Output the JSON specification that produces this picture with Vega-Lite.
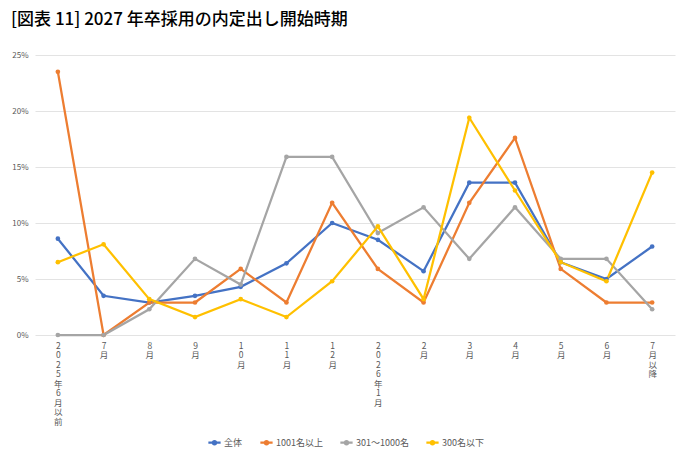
{
  "$schema": "https://vega.github.io/schema/vega-lite/v6.json",
  "width": 640,
  "height": 280,
  "autosize": {"type": "none"},
  "padding": {"left": 35, "top": 55, "right": 15, "bottom": 125},
  "background": "white",
  "title": {
    "text": "[図表 11] 2027 年卒採用の内定出し開始時期",
    "anchor": "start",
    "frame": "group",
    "dx": -24,
    "offset": 22,
    "font": "Noto Sans CJK JP",
    "fontSize": 17,
    "fontWeight": 500,
    "color": "#000000"
  },
  "config": {
    "view": {"stroke": null},
    "font": "Noto Sans CJK JP"
  },
  "datasets": {
    "d": [
      {"cat": "2025年6月以前", "s": "全体", "v": 8.6},
      {"cat": "7月", "s": "全体", "v": 3.5},
      {"cat": "8月", "s": "全体", "v": 2.9},
      {"cat": "9月", "s": "全体", "v": 3.5},
      {"cat": "10月", "s": "全体", "v": 4.3},
      {"cat": "11月", "s": "全体", "v": 6.4},
      {"cat": "12月", "s": "全体", "v": 10.0},
      {"cat": "2026年1月", "s": "全体", "v": 8.5},
      {"cat": "2月", "s": "全体", "v": 5.7},
      {"cat": "3月", "s": "全体", "v": 13.6},
      {"cat": "4月", "s": "全体", "v": 13.6},
      {"cat": "5月", "s": "全体", "v": 6.5},
      {"cat": "6月", "s": "全体", "v": 5.0},
      {"cat": "7月以降", "s": "全体", "v": 7.9},
      {"cat": "2025年6月以前", "s": "1001名以上", "v": 23.5},
      {"cat": "7月", "s": "1001名以上", "v": 0},
      {"cat": "8月", "s": "1001名以上", "v": 2.9},
      {"cat": "9月", "s": "1001名以上", "v": 2.9},
      {"cat": "10月", "s": "1001名以上", "v": 5.9},
      {"cat": "11月", "s": "1001名以上", "v": 2.9},
      {"cat": "12月", "s": "1001名以上", "v": 11.8},
      {"cat": "2026年1月", "s": "1001名以上", "v": 5.9},
      {"cat": "2月", "s": "1001名以上", "v": 2.9},
      {"cat": "3月", "s": "1001名以上", "v": 11.8},
      {"cat": "4月", "s": "1001名以上", "v": 17.6},
      {"cat": "5月", "s": "1001名以上", "v": 5.9},
      {"cat": "6月", "s": "1001名以上", "v": 2.9},
      {"cat": "7月以降", "s": "1001名以上", "v": 2.9},
      {"cat": "2025年6月以前", "s": "301～1000名", "v": 0},
      {"cat": "7月", "s": "301～1000名", "v": 0},
      {"cat": "8月", "s": "301～1000名", "v": 2.3},
      {"cat": "9月", "s": "301～1000名", "v": 6.8},
      {"cat": "10月", "s": "301～1000名", "v": 4.5},
      {"cat": "11月", "s": "301～1000名", "v": 15.9},
      {"cat": "12月", "s": "301～1000名", "v": 15.9},
      {"cat": "2026年1月", "s": "301～1000名", "v": 9.1},
      {"cat": "2月", "s": "301～1000名", "v": 11.4},
      {"cat": "3月", "s": "301～1000名", "v": 6.8},
      {"cat": "4月", "s": "301～1000名", "v": 11.4},
      {"cat": "5月", "s": "301～1000名", "v": 6.8},
      {"cat": "6月", "s": "301～1000名", "v": 6.8},
      {"cat": "7月以降", "s": "301～1000名", "v": 2.3},
      {"cat": "2025年6月以前", "s": "300名以下", "v": 6.5},
      {"cat": "7月", "s": "300名以下", "v": 8.1},
      {"cat": "8月", "s": "300名以下", "v": 3.2},
      {"cat": "9月", "s": "300名以下", "v": 1.6},
      {"cat": "10月", "s": "300名以下", "v": 3.2},
      {"cat": "11月", "s": "300名以下", "v": 1.6},
      {"cat": "12月", "s": "300名以下", "v": 4.8},
      {"cat": "2026年1月", "s": "300名以下", "v": 9.7},
      {"cat": "2月", "s": "300名以下", "v": 3.2},
      {"cat": "3月", "s": "300名以下", "v": 19.4},
      {"cat": "4月", "s": "300名以下", "v": 12.9},
      {"cat": "5月", "s": "300名以下", "v": 6.5},
      {"cat": "6月", "s": "300名以下", "v": 4.8},
      {"cat": "7月以降", "s": "300名以下", "v": 14.5}
    ]
  },
  "data": {"name": "d"},
  "mark": {"type": "line", "strokeWidth": 2.25, "point": {"filled": true, "size": 22}},
  "encoding": {
    "x": {
      "field": "cat",
      "type": "nominal",
      "sort": null,
      "scale": {"type": "point", "padding": 0.5},
      "axis": {
        "title": null,
        "domain": false,
        "ticks": false,
        "labelAngle": 0,
        "labelExpr": "split(datum.label, '')",
        "labelFontSize": 8.5,
        "labelLineHeight": 9.5,
        "labelColor": "#595959",
        "labelPadding": 6,
        "labelBaseline": "top",
        "labelFont": "Noto Sans CJK JP"
      }
    },
    "y": {
      "field": "v",
      "type": "quantitative",
      "scale": {"domain": [0, 25], "nice": false},
      "axis": {
        "title": null,
        "values": [0, 5, 10, 15, 20, 25],
        "labelExpr": "datum.value + '%'",
        "domain": false,
        "ticks": false,
        "labelFontSize": 8,
        "labelColor": "#595959",
        "labelPadding": 7,
        "gridColor": "#e3e3e3",
        "gridWidth": 1
      }
    },
    "color": {
      "field": "s",
      "type": "nominal",
      "sort": ["全体", "1001名以上", "301～1000名", "300名以下"],
      "scale": {
        "domain": ["全体", "1001名以上", "301～1000名", "300名以下"],
        "range": ["#4472C4", "#ED7D31", "#A5A5A5", "#FFC000"]
      },
      "legend": {
        "title": null,
        "orient": "none",
        "direction": "horizontal",
        "legendX": 172,
        "legendY": 380,
        "symbolType": "M-1,0L1,0M-0.25,0A0.25,0.25 0 1,1 0.25,0A0.25,0.25 0 1,1 -0.25,0Z",
        "symbolSize": 150,
        "symbolStrokeWidth": 2.25,
        "labelFontSize": 9,
        "labelColor": "#595959",
        "columnPadding": 12,
        "labelOffset": 2,
        "encode": {
          "symbols": {"update": {"fill": {"scale": "color", "field": "value"}}}
        }
      }
    }
  }
}
